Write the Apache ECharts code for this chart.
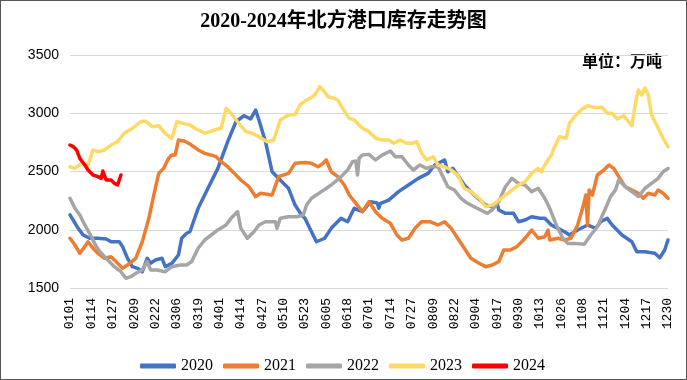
<!DOCTYPE html>
<html>
<head>
<meta charset="utf-8">
<script src="https://cdn.jsdelivr.net/npm/echarts@6.0.0/dist/echarts.min.js"></script>
<style>
html,body{margin:0;padding:0;background:#fff;}
#wrap{width:687px;height:380px;box-sizing:border-box;border:1px solid #555;}
#c{width:685px;height:378px;}
</style>
</head>
<body>
<div id="wrap"><div id="c"></div></div>
<script>
// Tick labels (every 13th day, leap-year calendar)
const tickLabels = ['0101','0114','0127','0209','0222','0306','0319','0401','0414','0427','0510','0523','0605','0618','0701','0714','0727','0809','0822','0904','0917','0930','1013','1026','1108','1121','1204','1217','1230'];
const seriesNames = ['2020','2021','2022','2023','2024'];

// [day index from 0101, inventory 万吨]
const s2020 = [[0,2127],[3,2058],[5,2012],[8,1955],[12,1927],[17,1927],[22,1920],[25,1897],[30,1897],[32,1855],[35,1755],[38,1683],[41,1669],[44,1640],[47,1755],[49,1712],[52,1740],[56,1755],[58,1683],[62,1712],[66,1783],[68,1927],[71,1970],[73,1983],[78,2184],[84,2356],[90,2527],[96,2756],[101,2927],[106,2979],[110,2951],[113,3028],[115,2942],[119,2756],[123,2498],[129,2412],[133,2356],[137,2212],[141,2127],[143,2098],[147,1983],[150,1897],[155,1927],[159,2012],[165,2098],[169,2069],[173,2184],[178,2155],[183,2241],[187,2230],[188,2184],[189,2227],[194,2255],[200,2327],[206,2384],[212,2441],[218,2484],[222,2556],[228,2599],[230,2498],[233,2527],[236,2470],[240,2384],[246,2298],[253,2212],[257,2198],[260,2227],[261,2170],[265,2141],[270,2141],[273,2069],[277,2084],[281,2112],[286,2098],[289,2098],[293,2041],[297,2012],[301,1983],[304,1955],[309,1998],[315,2041],[320,2012],[323,2069],[327,2098],[330,2041],[336,1955],[342,1897],[345,1812],[350,1812],[356,1798],[359,1760],[362,1826],[364,1912]];
const s2021 = [[0,1927],[3,1869],[6,1798],[9,1855],[11,1897],[14,1841],[17,1798],[21,1755],[25,1769],[29,1712],[32,1669],[35,1697],[40,1755],[44,1897],[48,2098],[51,2298],[54,2484],[57,2527],[60,2613],[62,2641],[64,2641],[66,2770],[70,2760],[74,2727],[78,2685],[82,2656],[86,2641],[89,2627],[92,2584],[96,2541],[100,2484],[104,2427],[109,2369],[113,2284],[116,2313],[123,2298],[127,2456],[133,2484],[137,2570],[143,2577],[147,2570],[151,2541],[154,2570],[156,2599],[159,2498],[163,2456],[167,2384],[170,2298],[174,2227],[178,2155],[182,2241],[186,2155],[190,2098],[195,2055],[199,1955],[202,1912],[206,1927],[210,2012],[214,2069],[219,2069],[224,2041],[228,2069],[232,2012],[236,1927],[240,1841],[244,1755],[249,1712],[253,1683],[257,1697],[261,1726],[264,1826],[268,1826],[272,1855],[277,1927],[281,1998],[285,1927],[289,1940],[291,1998],[292,1912],[297,1927],[301,1912],[305,1927],[309,2041],[312,2184],[314,2298],[315,2041],[316,2341],[318,2298],[321,2470],[325,2513],[328,2556],[331,2527],[334,2456],[338,2369],[342,2341],[346,2313],[349,2270],[352,2313],[356,2298],[358,2341],[361,2313],[364,2270]];
const s2022 = [[0,2270],[3,2184],[6,2127],[9,2041],[13,1941],[16,1855],[19,1798],[23,1740],[27,1683],[31,1640],[34,1583],[37,1597],[40,1626],[44,1655],[47,1726],[49,1655],[53,1655],[58,1640],[62,1683],[67,1697],[71,1697],[74,1726],[78,1841],[82,1912],[86,1955],[90,1998],[95,2041],[98,2098],[102,2155],[104,2012],[108,1927],[112,1983],[115,2041],[119,2069],[125,2069],[126,2012],[128,2098],[133,2112],[138,2112],[142,2127],[144,2212],[147,2270],[153,2327],[159,2384],[165,2456],[169,2513],[172,2584],[174,2590],[175,2470],[176,2613],[178,2641],[182,2647],[186,2599],[190,2641],[195,2676],[198,2627],[202,2627],[206,2556],[209,2513],[213,2556],[217,2527],[220,2541],[224,2541],[227,2456],[230,2369],[234,2341],[238,2270],[242,2227],[246,2198],[250,2170],[254,2141],[257,2170],[261,2241],[265,2369],[269,2441],[273,2398],[277,2384],[281,2327],[285,2356],[289,2270],[292,2184],[296,2041],[300,1927],[303,1883],[307,1883],[313,1875],[317,1955],[321,2026],[326,2184],[329,2284],[332,2341],[334,2427],[338,2369],[342,2327],[346,2284],[350,2356],[354,2398],[358,2441],[361,2498],[364,2527]];
const s2023 = [[0,2541],[3,2527],[7,2570],[11,2556],[14,2685],[17,2670],[21,2685],[25,2727],[29,2756],[33,2828],[38,2871],[43,2927],[46,2933],[50,2884],[54,2893],[58,2828],[62,2785],[65,2927],[69,2913],[73,2899],[76,2871],[82,2828],[88,2856],[92,2871],[95,3042],[98,3000],[102,2927],[107,2842],[111,2828],[115,2799],[120,2756],[124,2770],[128,2942],[133,2985],[137,2990],[140,3071],[144,3114],[146,3128],[149,3157],[152,3228],[154,3200],[157,3142],[161,3128],[163,3114],[166,3042],[170,2956],[173,2942],[178,2871],[182,2842],[186,2785],[190,2770],[194,2770],[197,2742],[201,2770],[205,2742],[208,2742],[211,2756],[214,2656],[217,2599],[221,2627],[224,2556],[228,2541],[232,2513],[236,2470],[240,2356],[244,2327],[249,2270],[253,2198],[257,2212],[261,2255],[265,2298],[269,2341],[273,2384],[277,2412],[281,2484],[285,2527],[287,2498],[289,2556],[293,2641],[295,2713],[298,2799],[302,2785],[304,2913],[307,2970],[311,3028],[315,3065],[320,3048],[324,3051],[327,3000],[330,3000],[333,2951],[337,2979],[340,2927],[342,2893],[344,3071],[346,3200],[348,3157],[350,3219],[352,3157],[354,2985],[358,2871],[361,2785],[364,2713]];
const s2024 = [[0,2727],[2,2713],[4,2685],[6,2613],[9,2556],[11,2513],[14,2470],[17,2456],[19,2441],[20,2504],[22,2427],[25,2427],[27,2398],[29,2384],[31,2470]];

const colors = ['#4472C4','#ED7D31','#A5A5A5','#FFD966','#FF0000'];
const allData = [s2020, s2021, s2022, s2023, s2024];

const chart = echarts.init(document.getElementById('c'), null, {renderer:'canvas'});
chart.setOption({
  animation: false,
  title: {
    text: '2020-2024年北方港口库存走势图',
    left: 'center',
    top: 6,
    textStyle: {fontFamily: "'Liberation Serif','Noto Sans CJK SC'", fontSize: 20, fontWeight: 'bold', color: '#000'}
  },
  graphic: [{
    type: 'text', left: 581, top: 52,
    style: {text: '单位：万吨', font: "bold 16px 'Noto Sans CJK SC'", fill: '#000'}
  }],
  legend: {
    data: seriesNames,
    left: 134, top: 352,
    icon: 'roundRect', itemWidth: 36, itemHeight: 5, itemGap: 10,
    textStyle: {fontFamily: "'Liberation Serif'", fontSize: 16, fontWeight: 'normal', color: '#000'}
  },
  grid: {left: 69, right: 18, top: 54, bottom: 91},
  xAxis: {
    type: 'value', min: 0, max: 364, interval: 13,
    axisLine: {show: false}, axisTick: {show: false}, splitLine: {show: false},
    axisLabel: {
      rotate: 90, margin: 10, color: '#000', fontFamily: "'Liberation Mono'", fontSize: 13,
      showMinLabel: true, showMaxLabel: true,
      formatter: v => tickLabels[Math.round(v / 13)] || ''
    }
  },
  yAxis: {
    type: 'value', min: 1500, max: 3500, interval: 500,
    axisLine: {show: false}, axisTick: {show: false},
    splitLine: {lineStyle: {color: '#d9d9d9', width: 1}},
    axisLabel: {color: '#000', fontFamily: "'Liberation Sans'", fontSize: 14, margin: 11, formatter: v => String(v)}
  },
  series: seriesNames.map((n, i) => ({
    name: n, type: 'line', data: allData[i], symbol: 'none', showSymbol: false,
    lineStyle: {color: colors[i], width: 3.5, join: 'round', cap: 'round'},
    itemStyle: {color: colors[i]},
    emphasis: {disabled: true}
  }))
});
</script>
</body>
</html>
